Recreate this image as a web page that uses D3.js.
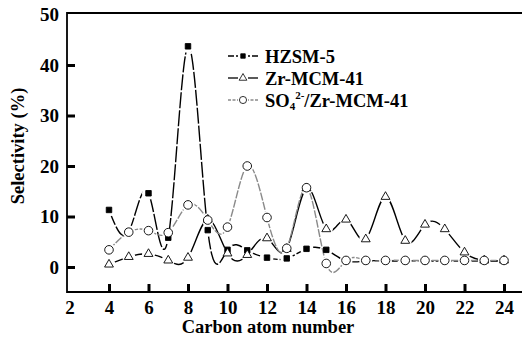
<!DOCTYPE html>
<html>
<head>
<meta charset="utf-8">
<script src="https://cdnjs.cloudflare.com/ajax/libs/d3/7.8.5/d3.min.js"></script>
<style>
  html, body { margin: 0; padding: 0; background: #fff; }
  svg { display: block; }
  text { font-family: "Liberation Serif", "Times New Roman", serif; font-weight: bold; fill: #000; }
</style>
</head>
<body>
<svg id="chart" width="522" height="343"></svg>
<script>
(function() {

  // Carbon atom numbers (x values).
  var carbon = [4, 5, 6, 7, 8, 9, 10, 11, 12, 13, 14, 15, 16, 17, 18, 19, 20, 21, 22, 23, 24];

  // Selectivity (%) for each catalyst.
  var hzsm5 = [11.3, 7.0, 14.6, 5.8, 43.7, 7.3, 3.4, 3.3, 1.85, 1.7, 3.6, 3.4,
               1.2, 1.2, 1.2, 1.2, 1.2, 1.2, 1.2, 1.2, 1.2];
  var zrmcm = [0.5, 2.0, 2.6, 1.3, 1.85, 9.4, 2.7, 2.4, 5.7, 3.6, 15.6, 7.5,
               9.4, 5.5, 13.9, 5.2, 8.4, 7.5, 2.9, 1.3, 1.3];
  var so4mcm = [3.4, 6.9, 7.2, 6.8, 12.3, 9.3, 7.9, 20.0, 9.8, 3.7, 15.7, 0.7,
                1.3, 1.3, 1.3, 1.3, 1.3, 1.3, 1.3, 1.3, 1.3];

  // Tick labels.
  var xticks = [2, 4, 6, 8, 10, 12, 14, 16, 18, 20, 22, 24];
  var yticks = [0, 10, 20, 30, 40, 50];

  // Series names.
  var names = ["HZSM-5", "Zr-MCM-41", "SO4/Zr-MCM-41"];

  // Plot box.
  var left = 67, top = 13, bottom = 292, right = 524;

  var svg = d3.select("#chart");

  var x = d3.scaleLinear().domain([2, 24]).range([69.5, 504]);
  var y = d3.scaleLinear().domain([0, 50]).range([267, 14.5]);

  // Series styles.
  var series = [
    { name: names[0], values: hzsm5, symbol: d3.symbolSquare, size: 30, fill: "#000", stroke: "#000", dash: "16,2", width: 1.4 },
    { name: names[1], values: zrmcm, symbol: d3.symbolTriangle, size: 34, fill: "#fff", stroke: "#000", dash: null, width: 1.4 },
    { name: names[2], values: so4mcm, symbol: d3.symbolCircle, size: 58, fill: "#fff", stroke: "#000", dash: "8,1.5", width: 1.4, lineColor: "#8a8a8a" }
  ];

  var line = d3.line()
    .x(function(d) { return x(d[0]); })
    .y(function(d) { return y(d[1]); })
    .curve(d3.curveNatural);

  var defs = svg.append("defs");

  // Lines, broken around their own markers.
  series.forEach(function(s, i) {
    var pts = carbon.map(function(c, j) { return [c, s.values[j]]; });
    var mask = defs.append("mask").attr("id", "gap" + i).attr("maskUnits", "userSpaceOnUse")
      .attr("x", 0).attr("y", 0).attr("width", 522).attr("height", 343);
    mask.append("rect").attr("width", 522).attr("height", 343).attr("fill", "#fff");
    mask.selectAll("circle").data(pts).enter().append("circle")
      .attr("cx", function(d) { return x(d[0]); })
      .attr("cy", function(d) { return y(d[1]); })
      .attr("r", 6.5)
      .attr("fill", "#000");
    svg.append("path")
      .datum(pts)
      .attr("d", line)
      .attr("fill", "none")
      .attr("stroke", s.lineColor || "#000")
      .attr("stroke-width", s.width)
      .attr("stroke-dasharray", s.dash)
      .attr("mask", "url(#gap" + i + ")");
  });

  // Markers.
  series.forEach(function(s) {
    var pts = carbon.map(function(c, j) { return [c, s.values[j]]; });
    svg.append("g").selectAll("path").data(pts).enter().append("path")
      .attr("transform", function(d) { return "translate(" + x(d[0]) + "," + y(d[1]) + ")"; })
      .attr("d", d3.symbol(s.symbol, s.size))
      .attr("fill", s.fill)
      .attr("stroke", s.stroke)
      .attr("stroke-width", 0.9);
  });

  // Frame lines.
  svg.append("path")
    .attr("d", "M" + right + "," + top + "H" + left + "V" + bottom + "H" + right)
    .attr("fill", "none")
    .attr("stroke", "#000")
    .attr("stroke-width", 1.8);

  // X axis.
  var xa = svg.append("g")
    .attr("transform", "translate(0," + bottom + ")")
    .call(d3.axisBottom(x).tickValues(xticks).tickSize(-8).tickPadding(9));
  xa.select(".domain").remove();
  xa.selectAll(".tick line").attr("stroke-width", 3)
    .filter(function(d) { return d === 2; }).remove();
  xa.selectAll("text").attr("font-size", 19).attr("font-family", null).attr("fill", "#000");

  // Y axis.
  var ya = svg.append("g")
    .attr("transform", "translate(" + left + ",0)")
    .call(d3.axisLeft(y).tickValues(yticks).tickSize(-8).tickPadding(8));
  ya.select(".domain").remove();
  ya.selectAll(".tick line").attr("stroke-width", 3)
    .filter(function(d) { return d === 50; }).remove();
  ya.selectAll("text").attr("font-size", 19).attr("font-family", null).attr("fill", "#000");

  // Axis titles.
  svg.append("text")
    .attr("x", 268).attr("y", 333)
    .attr("text-anchor", "middle")
    .attr("font-size", 18.5)
    .text("Carbon atom number");

  svg.append("text")
    .attr("transform", "translate(24,146) rotate(-90)")
    .attr("text-anchor", "middle")
    .attr("font-size", 18.5)
    .text("Selectivity (%)");

  // Legend.
  var legendY = [56, 78, 100];
  series.forEach(function(s, i) {
    var g = svg.append("g").attr("transform", "translate(0," + legendY[i] + ")");
    g.append("line")
      .attr("x1", 228).attr("x2", 258).attr("y1", 0).attr("y2", 0)
      .attr("stroke", s.lineColor || "#000")
      .attr("stroke-width", 1.3)
      .attr("stroke-dasharray", i === 0 ? "6,2" : (i === 2 ? "3,1.5" : null));
    g.append("rect").attr("x", 238).attr("y", -5).attr("width", 10).attr("height", 10).attr("fill", "#fff");
    g.append("path")
      .attr("transform", "translate(243,0)")
      .attr("d", d3.symbol(s.symbol, i === 0 ? 20 : (i === 1 ? 26 : 40)))
      .attr("fill", s.fill)
      .attr("stroke", s.stroke)
      .attr("stroke-width", 0.8);
    var t = g.append("text").attr("x", 265).attr("y", 6.5).attr("font-size", 18.5);
    if (i === 2) {
      t.append("tspan").text("SO");
      t.append("tspan").attr("font-size", 11).attr("dy", 3).text("4");
      t.append("tspan").attr("font-size", 11).attr("dy", -11).text("2-");
      t.append("tspan").attr("dy", 8).text("/Zr-MCM-41");
    } else {
      t.text(s.name);
    }
  });

})();
</script>
</body>
</html>
